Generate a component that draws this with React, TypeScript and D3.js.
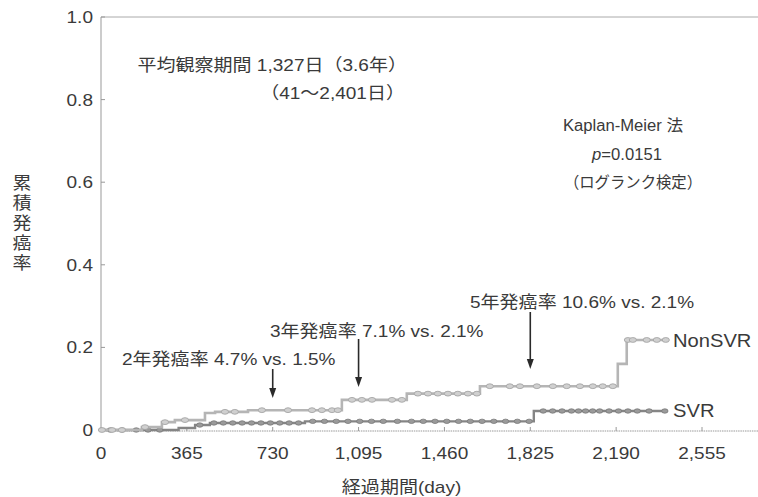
import React from "react";
import * as d3 from "d3";

const X_TICKS = [0, 365, 730, 1095, 1460, 1825, 2190, 2555];
const Y_TICKS = [0, 0.2, 0.4, 0.6, 0.8, 1.0];
const Y_TICK_LABELS = ["0", "0.2", "0.4", "0.6", "0.8", "1.0"];

const NONSVR_DAYS = [0, 174, 259, 314, 442, 485, 625, 1024, 1300, 1611, 2197, 2235];
const NONSVR_VALS = [0, 0.007, 0.019, 0.024, 0.041, 0.044, 0.048, 0.073, 0.088, 0.106, 0.16, 0.218];
const NONSVR_END = 2401;
const NONSVR_CENSOR = [4, 47, 89, 187, 272, 357, 527, 569, 684, 795, 897, 939, 982, 1007, 1067, 1109, 1152, 1237, 1279, 1347, 1390, 1432, 1475, 1517, 1560, 1598, 1653, 1738, 1781, 1853, 1921, 1980, 2036, 2091, 2133, 2176, 2240, 2261, 2320, 2363, 2401];

const SVR_DAYS = [0, 330, 400, 463, 867, 1840];
const SVR_VALS = [0, 0.005, 0.012, 0.017, 0.021, 0.046];
const SVR_END = 2397;
const SVR_CENSOR = [40, 90, 150, 200, 250, 420, 480, 520, 560, 600, 640, 680, 720, 760, 800, 840, 900, 950, 1000, 1050, 1100, 1150, 1200, 1260, 1320, 1370, 1420, 1470, 1520, 1570, 1620, 1670, 1720, 1770, 1820, 1880, 1920, 1960, 2000, 2030, 2060, 2090, 2120, 2160, 2200, 2240, 2280, 2330, 2397];

const ANNOTATIONS = [
  { text: "2年発癌率 4.7% vs. 1.5%", day: 730 },
  { text: "3年発癌率 7.1% vs. 2.1%", day: 1095 },
  { text: "5年発癌率 10.6% vs. 2.1%", day: 1825 },
];

const W = 758;
const H = 497;
const FONT = "'Liberation Sans', 'Noto Sans CJK JP', sans-serif";
const TXT = "#3a3a3a";
const SX = 1.12;

function stepPoints(days: number[], vals: number[], end: number): [number, number][] {
  const pts: [number, number][] = days.map((d, i) => [d, vals[i]]);
  pts.push([end, vals[vals.length - 1]]);
  return pts;
}
function valueAt(days: number[], vals: number[], t: number) {
  let v = vals[0];
  for (let i = 0; i < days.length; i++) if (days[i] <= t) v = vals[i];
  return v;
}

function SText(props: { x: number; y: number; anchor?: string; size?: number; sx?: number; children: React.ReactNode }) {
  const { x, y, anchor = "start", size = 17, sx = SX, children } = props;
  return (
    <text transform={`translate(${x},${y}) scale(${sx},1)`} textAnchor={anchor} fontSize={size} fill={TXT}>
      {children}
    </text>
  );
}

export default function App() {
  const x = d3.scaleLinear().domain([0, 2555]).range([101, 702]);
  const y = d3.scaleLinear().domain([0, 1]).range([430, 17]);
  const line = d3
    .line<[number, number]>()
    .x((d) => x(d[0]))
    .y((d) => y(d[1]))
    .curve(d3.curveStepAfter);
  const fmt = d3.format(",");

  const nonPts = stepPoints(NONSVR_DAYS, NONSVR_VALS, NONSVR_END);
  const svrPts = stepPoints(SVR_DAYS, SVR_VALS, SVR_END);

  const arrowSpecs = [
    { y1: 369, y2: 398, tx: 122, ty: 365 },
    { y1: 339, y2: 387, tx: 270, ty: 337 },
    { y1: 312, y2: 369, tx: 470, ty: 308 },
  ];

  return (
    <svg width={W} height={H} style={{ position: "absolute", left: 0, top: 0, background: "#fff" }} fontFamily={FONT}>
      {/* axes */}
      <line x1={x(0)} x2={W} y1={y(1)} y2={y(1)} stroke="#aaa" strokeWidth={1} />
      <line x1={x(0)} x2={x(0)} y1={y(1)} y2={y(0)} stroke="#999" strokeWidth={1} />
      <line x1={x(0)} x2={W} y1={y(0) + 1} y2={y(0) + 1} stroke="#999" strokeWidth={1} strokeDasharray="1.5 0.8" />
      {Y_TICKS.map((t, i) => (
        <g key={"y" + i}>
          <line x1={x(0)} x2={x(0) + 4} y1={y(t)} y2={y(t)} stroke="#999" />
          <SText x={93} y={y(t) + 6} anchor="end">
            {Y_TICK_LABELS[i]}
          </SText>
        </g>
      ))}
      {X_TICKS.map((t, i) => (
        <g key={"x" + i}>
          <line x1={x(t)} x2={x(t)} y1={y(0) + 1} y2={y(0) - 3} stroke="#999" />
          <SText x={x(t)} y={459} anchor="middle">
            {fmt(t)}
          </SText>
        </g>
      ))}
      <SText x={x(1095) + 43} y={493} anchor="middle">
        経過期間(day)
      </SText>
      {"累積発癌率".split("").map((c, i) => (
        <SText key={"yl" + i} x={22} y={189 + i * 20} anchor="middle">
          {c}
        </SText>
      ))}

      {/* curves */}
      <path d={line(svrPts) || ""} fill="none" stroke="#858585" strokeWidth={2.4} />
      {SVR_CENSOR.map((d, i) => (
        <ellipse key={"sc" + i} cx={x(d)} cy={y(valueAt(SVR_DAYS, SVR_VALS, d))} rx={3.2} ry={2.2} fill="#9a9a9a" stroke="#777" strokeWidth={0.8} />
      ))}
      <path d={line(nonPts) || ""} fill="none" stroke="#b5b5b5" strokeWidth={2.6} />
      {NONSVR_CENSOR.map((d, i) => (
        <ellipse key={"nc" + i} cx={x(d)} cy={y(valueAt(NONSVR_DAYS, NONSVR_VALS, d))} rx={3.6} ry={2.4} fill="#d0d0d0" stroke="#a5a5a5" strokeWidth={0.9} />
      ))}

      {/* series labels */}
      <SText x={673} y={347} size={18}>NonSVR</SText>
      <SText x={673} y={417} size={18}>SVR</SText>

      {/* annotations */}
      {ANNOTATIONS.map((a, i) => (
        <g key={"an" + i}>
          <SText x={arrowSpecs[i].tx} y={arrowSpecs[i].ty}>
            {a.text}
          </SText>
          <line x1={x(a.day)} x2={x(a.day)} y1={arrowSpecs[i].y1} y2={arrowSpecs[i].y2 - 8} stroke="#2a2a2a" strokeWidth={1.6} />
          <path d={`M${x(a.day) - 3.5},${arrowSpecs[i].y2 - 10} L${x(a.day) + 3.5},${arrowSpecs[i].y2 - 10} L${x(a.day)},${arrowSpecs[i].y2} Z`} fill="#2a2a2a" />
        </g>
      ))}

      {/* info texts */}
      <SText x={407} y={71} anchor="end">平均観察期間 1,327日（3.6年）</SText>
      <SText x={405} y={99} anchor="end">（41～2,401日）</SText>
      <SText x={623} y={131} anchor="middle" size={16} sx={1.04}>Kaplan-Meier 法</SText>
      <SText x={627} y={160} anchor="middle" size={16} sx={1.04}>
        <tspan fontStyle="italic">p</tspan>=0.0151
      </SText>
      <SText x={633} y={188} anchor="middle" size={16} sx={0.96}>（ログランク検定）</SText>
    </svg>
  );
}
